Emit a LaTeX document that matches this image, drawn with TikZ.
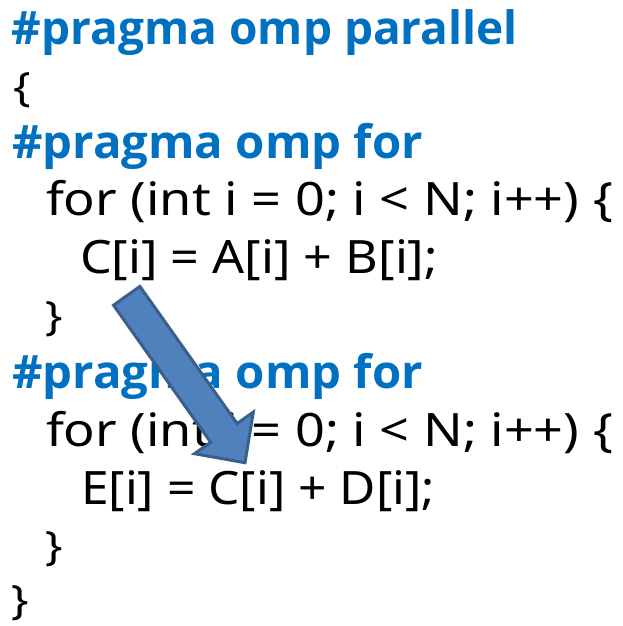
\documentclass[tikz,border=0pt]{standalone}
\usepackage{fontspec}
\setmainfont{Noto Sans}
\IfFontExistsTF{Noto Sans Bold}{\newfontfamily\pragfont{Noto Sans Bold}}{%
  \IfFontExistsTF{Open Sans Bold}{\newfontfamily\pragfont{Open Sans Bold}}{%
    \newfontfamily\pragfont{Noto Sans}[FakeBold=2.5]}}
\usepackage{graphicx}
\definecolor{pragblue}{HTML}{0070C0}
\definecolor{arrowfill}{HTML}{4F81BD}
\definecolor{arrowline}{HTML}{3A5F8B}
\newlength\fitlen
\newcommand\fitto[2]{\settowidth\fitlen{#2}\pgfmathsetmacro\fitsx{#1/\fitlen}\scalebox{\fitsx}[1]{#2}}
\newcommand\brc[1]{\scalebox{1}[0.88]{#1}}
\tikzset{
  codeline/.style={anchor=base west, inner sep=0pt, outer sep=0pt, font=\fontsize{46}{55}\selectfont},
  pragline/.style={codeline, text=pragblue, font=\fontsize{46}{55}\pragfont},
  blockarrow/.style={fill=arrowfill, draw=arrowline, line width=3pt, line join=miter}
}
\begin{document}
\begin{tikzpicture}[x=1pt,y=-1pt]
\useasboundingbox (0,0) rectangle (623,626);
\node[pragline] (l1) at (12,45) {\fitto{506pt}{\#pragma omp parallel}};
\node[codeline] (l2) at (13,101) {\brc{\{}};
\node[pragline] (l3) at (12,158) {\fitto{411pt}{\#pragma omp for}};
\node[codeline] (l4) at (46,215) {\fitto{567pt}{for (int i = 0; i < N; i++) \{}};
\node[codeline] (l5) at (80,273) {\fitto{358pt}{C[i] = A[i] + B[i];}};
\node[codeline] (l6) at (45,330) {\brc{\}}};
\node[pragline] (l7) at (12,388) {\fitto{411pt}{\#pragma omp for}};
\node[codeline] (l8) at (46,446) {\fitto{567pt}{for (int i = 0; i < N; i++) \{}};
\node[codeline] (l9) at (81,504) {\fitto{354pt}{E[i] = C[i] + D[i];}};
\node[codeline] (l10) at (45,560) {\brc{\}}};
\node[codeline] (l11) at (11,614) {\brc{\}}};
% block arrow from C[i] to C[i]
\coordinate (t1) at (139.9,286.4);
\coordinate (s1) at (237.1,423.5);
\coordinate (b1) at (253.3,412.1);
\coordinate (tip) at (245,462.7);
\coordinate (b2) at (194.5,453.7);
\coordinate (s2) at (210.7,442.3);
\coordinate (t2) at (113.5,305.2);
\draw[blockarrow] (t1) -- (s1) -- (b1) -- (tip) -- (b2) -- (s2) -- (t2) -- cycle;
\end{tikzpicture}
\end{document}
